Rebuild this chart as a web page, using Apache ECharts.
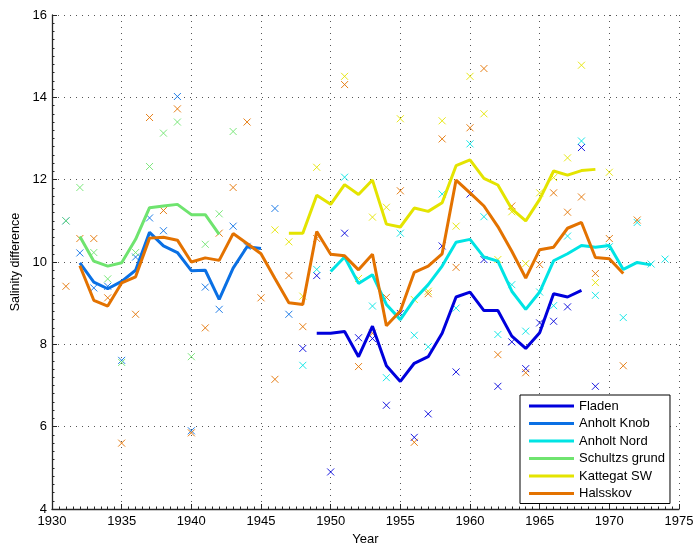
<!DOCTYPE html>
<html>
<head>
<meta charset="utf-8">
<title>Salinity difference</title>
<script src="https://cdn.jsdelivr.net/npm/echarts@6/dist/echarts.min.js"></script>
<style>
  html, body { margin: 0; padding: 0; background: #fff; }
  #chart { width: 695px; height: 544px; }
</style>
</head>
<body>
<div id="chart"></div>
<script>
const _ = null;

// One entry per year, 1931 .. 1974
const years = [1931, 1932, 1933, 1934, 1935, 1936, 1937, 1938, 1939, 1940,
               1941, 1942, 1943, 1944, 1945, 1946, 1947, 1948, 1949, 1950,
               1951, 1952, 1953, 1954, 1955, 1956, 1957, 1958, 1959, 1960,
               1961, 1962, 1963, 1964, 1965, 1966, 1967, 1968, 1969, 1970,
               1971, 1972, 1973, 1974];

const stationNames = ['Fladen', 'Anholt Knob', 'Anholt Nord', 'Schultzs grund', 'Kattegat SW', 'Halsskov'];
const stationColors = ['#0000dc', '#0a70e4', '#00e4e4', '#6fe46f', '#e4e400', '#e37200'];

// Annual values (crosses)
const fladenAnnual = [_, _, _, _, _, _, _, _, _, _,
  _, _, _, _, _, _, _, 7.90, 9.67, 4.90,
  10.70, 8.16, 8.14, 6.52, 8.75, 5.74, 6.31, 10.39, 7.33, 11.65,
  10.06, 6.98, 8.06, 7.41, 8.52, 8.56, 8.91, 12.78, 6.98, _,
  _, _, _, _];
const knobAnnual = [11.00, 10.22, 9.37, 9.41, 7.61, 10.12, 11.07, 10.76, 14.02, 5.90,
  9.39, 8.85, 10.87, 10.38, _, 11.30, 8.73, _, _, _,
  _, _, _, _, _, _, _, _, _, _,
  _, _, _, _, _, _, _, _, _, _,
  _, _, _, _];
const nordAnnual = [_, _, _, _, _, _, _, _, _, _,
  _, _, _, _, _, _, _, 7.49, 9.82, _,
  12.06, _, 8.93, 7.19, 10.70, 8.22, 7.94, 11.65, 8.88, 12.87,
  11.10, 8.24, 9.45, 8.32, 9.27, 8.94, 10.63, 12.94, 9.19, 10.37,
  8.65, 10.96, 9.95, 10.07];
const schultzAnnual = [11.00, 11.81, 10.23, 9.59, 7.56, 10.23, 12.32, 13.13, 13.40, 7.70,
  10.43, 11.17, 13.17, _, _, _, _, _, _, _,
  _, _, _, _, _, _, _, _, _, _,
  _, _, _, _, _, _, _, _, _, _,
  _, _, _, _];
const kattegatAnnual = [_, _, _, _, _, _, _, _, _, _,
  _, _, _, _, _, 10.78, 10.49, 9.17, 12.30, _,
  14.51, 9.60, 11.09, 11.33, 13.48, 9.09, 9.29, 13.43, 10.87, 14.51,
  13.60, 10.06, 11.22, 9.96, 11.68, 12.05, 12.53, 14.78, 9.50, 12.18,
  _, _, _, _];
const halsskovAnnual = [9.41, 10.57, 10.57, 9.13, 5.60, 8.73, 13.51, 11.25, 13.72, 5.85,
  8.40, 10.70, 11.81, 13.40, 9.13, 7.15, 9.67, 8.43, 10.57, _,
  14.31, 7.46, 8.27, 9.14, 11.73, 5.62, 9.23, 12.99, 9.87, 13.26,
  14.70, 7.75, 11.36, 7.31, 9.94, 11.68, 11.21, 11.58, 9.72, 10.57,
  7.48, 11.02, _, _];

// Smoothed values (thick lines)
const fladenSmooth = [_, _, _, _, _, _, _, _, _, _,
  _, _, _, _, _, _, _, _, 8.27, 8.27,
  8.31, 7.70, 8.44, 7.48, 7.10, 7.54, 7.70, 8.27, 9.15, 9.27,
  8.82, 8.82, 8.20, 7.90, 8.28, 9.23, 9.15, 9.31, _, _,
  _, _, _, _];
const knobSmooth = [_, 9.98, 9.51, 9.35, 9.53, 9.80, 10.72, 10.39, 10.23, 9.79,
  9.80, 9.09, 9.85, 10.37, 10.33, _, _, _, _, _,
  _, _, _, _, _, _, _, _, _, _,
  _, _, _, _, _, _, _, _, _, _,
  _, _, _, _];
const nordSmooth = [_, _, _, _, _, _, _, _, _, _,
  _, _, _, _, _, _, _, _, _, 9.77,
  10.12, 9.48, 9.69, 8.97, 8.60, 9.09, 9.45, 9.90, 10.48, 10.55,
  10.12, 10.02, 9.29, 8.85, 9.27, 10.03, 10.20, 10.40, 10.36, 10.40,
  9.82, 9.99, 9.93, _];
const schultzSmooth = [_, 10.62, 10.02, 9.90, 9.98, 10.55, 11.32, 11.36, 11.40, 11.15,
  11.15, 10.67, _, _, _, _, _, _, _, _,
  _, _, _, _, _, _, _, _, _, _,
  _, _, _, _, _, _, _, _, _, _,
  _, _, _, _];
const kattegatSmooth = [_, _, _, _, _, _, _, _, _, _,
  _, _, _, _, _, _, 10.70, 10.70, 11.62, 11.40,
  11.88, 11.64, 11.99, 10.92, 10.85, 11.31, 11.23, 11.44, 12.34, 12.48,
  12.03, 11.87, 11.29, 11.00, 11.52, 12.21, 12.11, 12.22, 12.25, _,
  _, _, _, _];
const halsskovSmooth = [_, 9.91, 9.07, 8.93, 9.49, 9.64, 10.58, 10.60, 10.53, 10.00,
  10.10, 10.04, 10.69, 10.45, 10.20, 9.60, 9.01, 8.97, 10.74, 10.19,
  10.15, 9.81, 10.19, 8.45, 8.81, 9.75, 9.90, 10.20, 11.99, 11.68,
  11.36, 10.86, 10.26, 9.61, 10.30, 10.36, 10.82, 10.96, 10.11, 10.08,
  9.72, _, _, _];

const yTicks = [4, 6, 8, 10, 12, 14, 16];
const xTicks = [1930, 1935, 1940, 1945, 1950, 1955, 1960, 1965, 1970, 1975];

const annualSets = [fladenAnnual, knobAnnual, nordAnnual, schultzAnnual, kattegatAnnual, halsskovAnnual];
const smoothSets = [fladenSmooth, knobSmooth, nordSmooth, schultzSmooth, kattegatSmooth, halsskovSmooth];

const font = '"Liberation Sans", Arial, Helvetica, sans-serif';
const axisColor = '#262626';
const crossPath = 'path://M0,0L10,10M10,0L0,10';

function pairs(values) {
  const out = [];
  values.forEach((v, i) => { if (v !== null) out.push([years[i], v]); });
  return out;
}

const series = [];
// crosses first so the thick lines sit above them
stationNames.forEach((name, k) => {
  series.push({
    name: name + ' annual',
    type: 'scatter',
    data: pairs(annualSets[k]),
    symbol: crossPath,
    symbolSize: 7,
    itemStyle: { color: stationColors[k], borderColor: stationColors[k], borderWidth: 1, opacity: 0.9 },
    z: 1,
    silent: true
  });
});
stationNames.forEach((name, k) => {
  series.push({
    name: name,
    type: 'line',
    data: pairs(smoothSets[k]),
    showSymbol: false,
    symbol: 'none',
    color: stationColors[k],
    lineStyle: { color: stationColors[k], width: 3 },
    z: 2,
    silent: true
  });
});

const chart = echarts.init(document.getElementById('chart'), null, { renderer: 'canvas' });
chart.setOption({
  animation: false,
  backgroundColor: '#fff',
  grid: { left: 52, right: 16, top: 15, bottom: 35, containLabel: false, outerBoundsMode: 'none' },
  xAxis: {
    type: 'value',
    min: xTicks[0],
    max: xTicks[xTicks.length - 1],
    interval: 5,
    name: 'Year',
    nameLocation: 'middle',
    nameGap: 22,
    nameTextStyle: { fontFamily: font, fontSize: 13, color: '#000' },
    axisLine: { show: true, onZero: false, lineStyle: { color: axisColor, width: 1.3 } },
    axisTick: { show: true, inside: true, length: 5, lineStyle: { color: axisColor } },
    minorTick: { show: true, splitNumber: 10, length: 2.5, lineStyle: { color: axisColor } },
    axisLabel: { fontFamily: font, fontSize: 13, color: '#000', margin: 6, formatter: v => String(v) },
    splitLine: { show: true, lineStyle: { color: '#555', type: [1, 5], width: 1 } }
  },
  yAxis: {
    type: 'value',
    min: yTicks[0],
    max: yTicks[yTicks.length - 1],
    interval: 2,
    name: 'Salinity difference',
    nameLocation: 'middle',
    nameGap: 22,
    nameTextStyle: { fontFamily: font, fontSize: 12.5, color: '#000' },
    axisLine: { show: true, onZero: false, lineStyle: { color: axisColor, width: 1.3 } },
    axisTick: { show: true, inside: true, length: 5, lineStyle: { color: axisColor } },
    minorTick: { show: true, splitNumber: 10, length: 2.5, lineStyle: { color: axisColor } },
    axisLabel: { fontFamily: font, fontSize: 13, color: '#000', margin: 5 },
    splitLine: { show: true, lineStyle: { color: '#555', type: [1, 5], width: 1 } }
  },
  legend: {
    data: stationNames,
    orient: 'vertical',
    left: 520,
    top: 395,
    padding: [4, 5, 3, 9],
    itemGap: 3.5,
    itemWidth: 45,
    itemHeight: 3,
    icon: 'rect',
    backgroundColor: '#fff',
    borderColor: '#000',
    borderWidth: 1,
    selectedMode: false,
    textStyle: { fontFamily: font, fontSize: 13, color: '#000', lineHeight: 14 }
  },
  series: series
});
</script>
</body>
</html>
